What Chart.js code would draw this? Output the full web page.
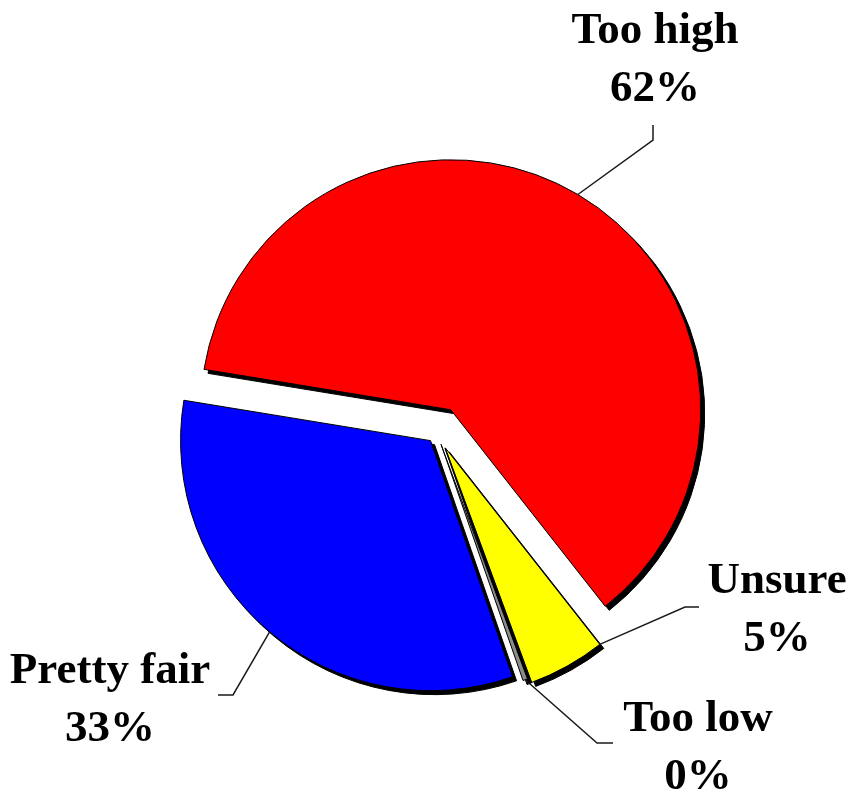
<!DOCTYPE html>
<html>
<head>
<meta charset="utf-8">
<script src="https://cdn.jsdelivr.net/npm/chart.js@4.4.1/dist/chart.umd.min.js"></script>
<style>
  html, body { margin: 0; padding: 0; background: #ffffff; }
  #wrap { width: 851px; height: 796px; position: relative; }
</style>
</head>
<body>
<div id="wrap"><canvas id="c"></canvas></div>
<script>
// ---- data ----
const categories = ['Too high', 'Unsure', 'Too low', 'Pretty fair'];
const shares = [62, 5, 0.3, 33];
const percentLabels = ['62%', '5%', '0%', '33%'];

// ---- styling ----
const sliceColors = ['#FF0000', '#FFFF00', '#8C8C8C', '#0000FF'];
const explode = [27, 17, 12, 10];
const SHADOW = 4;
const FONT = 'bold 45px "Liberation Serif", "Times New Roman", serif';
const LINE_GAP = 58;
// label layout relative to pie centre: anchor fraction along slice, elbow, end, text centre
const labelLayout = [
  { frac: 0.5, elbow: [216, -293], end: [216, -308], text: [218, -390] },
  { frac: 0.0, elbow: [248, 174], end: [262, 174], text: [340, 160] },
  { frac: 0.5, elbow: [160, 310], end: [176, 310], text: [261, 298] },
  { frac: 0.5, elbow: [-204, 262], end: [-219, 262], text: [-327, 250] }
];

const explodeShadowPlugin = {
  id: 'explodeShadow',
  beforeDatasetDraw(chart, args) {
    args.meta.data.forEach((arc, i) => {
      if (arc.__wrapped) return;
      const base = Object.getPrototypeOf(arc).draw;
      arc.draw = function (ctx, area) {
        const mid = (this.startAngle + this.endAngle) / 2;
        const d = explode[i] || 0;
        ctx.save();
        ctx.translate(Math.cos(mid) * d, Math.sin(mid) * d);
        ctx.save();
        ctx.translate(SHADOW, SHADOW);
        const o = this.options;
        const so = Object.create(o);
        so.backgroundColor = '#000000';
        so.borderColor = '#000000';
        this.options = so;
        base.call(this, ctx, area);
        this.options = o;
        ctx.restore();
        base.call(this, ctx, area);
        ctx.restore();
      };
      arc.__wrapped = true;
    });
  }
};

const labelPlugin = {
  id: 'pieLabels',
  afterDatasetsDraw(chart) {
    const ctx = chart.ctx;
    const meta = chart.getDatasetMeta(0);
    ctx.save();
    meta.data.forEach((arc, i) => {
      const L = labelLayout[i];
      const cx = arc.x, cy = arc.y;
      const mid = (arc.startAngle + arc.endAngle) / 2;
      const d = explode[i] || 0;
      const ox = cx + Math.cos(mid) * d, oy = cy + Math.sin(mid) * d;
      const a = arc.startAngle + (arc.endAngle - arc.startAngle) * L.frac;
      const r = arc.outerRadius;
      const sx = ox + Math.cos(a) * r, sy = oy + Math.sin(a) * r;
      ctx.strokeStyle = '#1a1a1a';
      ctx.lineWidth = 1.5;
      ctx.beginPath();
      ctx.moveTo(sx, sy);
      ctx.lineTo(cx + L.elbow[0], cy + L.elbow[1]);
      ctx.lineTo(cx + L.end[0], cy + L.end[1]);
      ctx.stroke();
      ctx.fillStyle = '#000000';
      ctx.font = FONT;
      ctx.textAlign = 'center';
      ctx.textBaseline = 'alphabetic';
      const tx = cx + L.text[0], ty = cy + L.text[1];
      ctx.fillText(categories[i], tx, ty);
      ctx.fillText(percentLabels[i], tx, ty + LINE_GAP);
    });
    ctx.restore();
  }
};

new Chart(document.getElementById('c'), {
  type: 'pie',
  data: {
    labels: categories,
    datasets: [{
      data: shares,
      backgroundColor: sliceColors,
      borderColor: '#000000',
      borderWidth: 1,
      offset: 0,
      hoverOffset: 0
    }]
  },
  options: {
    responsive: true,
    maintainAspectRatio: false,
    animation: false,
    events: [],
    rotation: 279.3,
    radius: 250,
    layout: { padding: { left: 23, right: 0, top: 70, bottom: 0 } },
    plugins: {
      legend: { display: false },
      tooltip: { enabled: false },
      title: { display: false }
    }
  },
  plugins: [explodeShadowPlugin, labelPlugin]
});
</script>
</body>
</html>
